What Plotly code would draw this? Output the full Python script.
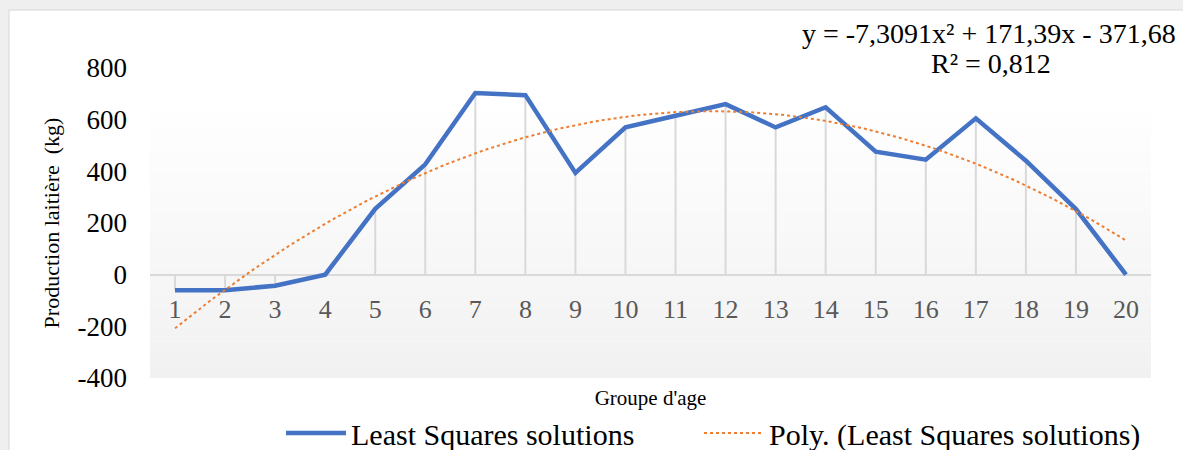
import numpy as np
import plotly.graph_objects as go

# ---------------- data ----------------
categories = list(range(1, 21))
tick_labels = [str(c) for c in categories]
production = [-60, -60, -43, 0, 255, 427, 703, 695, 394, 570,
              615, 660, 570, 648, 476, 445, 605, 441, 254, 0]
trend_coefs = [-7.3091, 171.39, -371.68]          # a, b, c of the displayed trend line
trend_label = "y = -7,3091x² + 171,39x - 371,68"
r2_label = "R² = 0,812"
y_ticks = [-400, -200, 0, 200, 400, 600, 800]
series_name = "Least Squares solutions"
trend_name = "Poly. (Least Squares solutions)"
x_title = "Groupe d'age"
y_title = "Production laitière  (kg)"

# ---------------- geometry (pixels) ----------------
W, H = 1183, 450
L, R, T, B = 150, 32, 68, 72
PW, PH = W - L - R, H - T - B
Y_MIN, Y_MAX = -400, 800


def px_x(p):
    return (p - L) / PW


def px_y(p):
    return (H - B - p) / PH


FONT = "Liberation Serif, Times New Roman, serif"

fig = go.Figure()

# drop lines from the zero line to each point
dx, dy = [], []
for c, v in zip(categories, production):
    dx += [c, c, None]
    dy += [0, v, None]
fig.add_trace(go.Scatter(x=dx, y=dy, mode="lines",
                         line=dict(color="#d9d9d9", width=2),
                         hoverinfo="skip", showlegend=False))

# main series
fig.add_trace(go.Scatter(x=categories, y=production, mode="lines",
                         name=series_name, legend="legend",
                         line=dict(color="#4472C4", width=4.5)))

# polynomial trend line (from displayed coefficients)
tx = np.linspace(categories[0], categories[-1], 200)
ty = np.polyval(trend_coefs, tx)
fig.add_trace(go.Scatter(x=tx, y=ty, mode="lines", name=trend_name,
                         legend="legend2",
                         line=dict(color="#ED7D31", width=2, dash="dot")))

shapes = []
# outer light-grey frame with a white chart area
shapes.append(dict(type="rect", xref="paper", yref="paper",
                   x0=px_x(9), x1=px_x(W + 20), y0=px_y(H + 20), y1=px_y(10),
                   fillcolor="white", line=dict(color="#d6d6d6", width=1),
                   layer="below"))

# vertical gradient of the plot area (white -> light grey)
grad_top_val = 666
n = 60
edges = np.linspace(grad_top_val, Y_MIN, n + 1)
for i in range(n):
    t = (i + 0.5) / n
    g = int(round(255 - t * (255 - 241)))
    shapes.append(dict(type="rect", xref="x", yref="y",
                       x0=0.5, x1=20.5, y0=edges[i + 1] - 0.5, y1=edges[i] + 0.5,
                       fillcolor=f"rgb({g},{g},{g})", line=dict(width=0),
                       layer="below"))

legend_style = dict(orientation="h", xanchor="left", yanchor="middle",
                    y=px_y(433),
                    font=dict(size=30, family=FONT, color="#000000"),
                    bgcolor="rgba(0,0,0,0)", itemwidth=60)

fig.update_layout(
    width=W, height=H,
    margin=dict(l=L, r=R, t=T, b=B, autoexpand=False),
    paper_bgcolor="#efefef",
    plot_bgcolor="white",
    font=dict(family=FONT, color="#000000"),
    shapes=shapes,
    showlegend=True,
    legend=dict(x=px_x(281), **legend_style),
    legend2=dict(x=px_x(699), **legend_style),
    annotations=[
        dict(text=trend_label, xref="paper", yref="paper",
             x=px_x(1178), y=px_y(33), xanchor="right", yanchor="middle",
             showarrow=False, font=dict(size=28, family=FONT, color="#000000")),
        dict(text=r2_label, xref="paper", yref="paper",
             x=px_x(991), y=px_y(63), xanchor="center", yanchor="middle",
             showarrow=False, font=dict(size=28, family=FONT, color="#000000")),
    ],
)

fig.update_xaxes(
    range=[0.5, 20.5], tickmode="array", tickvals=categories, ticktext=tick_labels,
    anchor="free", position=(0 - Y_MIN) / (Y_MAX - Y_MIN),
    showgrid=False, showline=False, zeroline=False, ticks="",
    tickfont=dict(size=26, family=FONT, color="#595959"),
    ticklabelstandoff=16,
    title=dict(text=x_title, font=dict(size=21, family=FONT, color="#000000"),
               standoff=67),
    automargin=False,
)
fig.update_yaxes(
    range=[Y_MIN, Y_MAX], tickmode="array", tickvals=y_ticks,
    ticktext=[str(v) for v in y_ticks],
    showgrid=False, showline=False, ticks="",
    zeroline=True, zerolinecolor="#d9d9d9", zerolinewidth=2,
    tickfont=dict(size=27, family=FONT, color="#000000"),
    ticklabelstandoff=22,
    title=dict(text=y_title, font=dict(size=22, family=FONT, color="#000000"),
               standoff=11),
    automargin=False,
)

fig.write_html("out.html", config={"displayModeBar": False},
               post_script="document.body.style.margin='0';document.body.style.overflow='hidden';")
